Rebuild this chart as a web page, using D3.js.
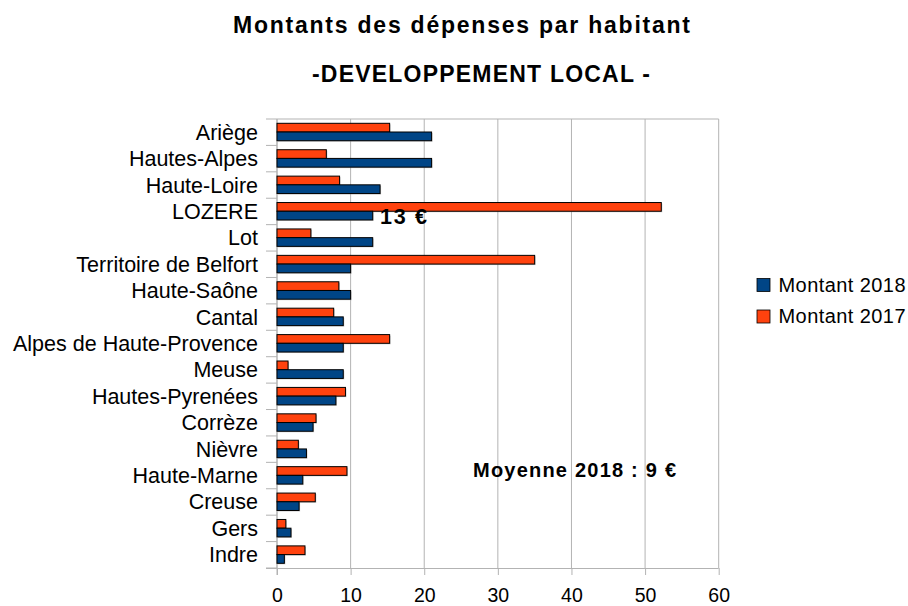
<!DOCTYPE html>
<html>
<head>
<meta charset="utf-8">
<script src="https://cdn.jsdelivr.net/npm/d3@7"></script>
<style>
  html, body { margin: 0; padding: 0; background: #fff; }
  svg { display: block; font-family: "Liberation Sans", Arial, sans-serif; }
</style>
</head>
<body>
<svg id="chart" width="908" height="606"></svg>
<script>
// Départements, top to bottom
const departements = [
  "Ariège", "Hautes-Alpes", "Haute-Loire", "LOZERE", "Lot",
  "Territoire de Belfort", "Haute-Saône", "Cantal", "Alpes de Haute-Provence",
  "Meuse", "Hautes-Pyrenées", "Corrèze", "Nièvre", "Haute-Marne",
  "Creuse", "Gers", "Indre"
];
// Spending per inhabitant (€)
const montant2018 = [21, 21, 14, 13, 13, 10, 10, 9, 9, 9, 8, 4.9, 4, 3.5, 3, 1.9, 1];
const montant2017 = [15.3, 6.7, 8.5, 52.2, 4.6, 35, 8.4, 7.7, 15.3, 1.5, 9.3, 5.3, 2.9, 9.5, 5.2, 1.2, 3.8];
const xTicks = [0, 10, 20, 30, 40, 50, 60];
const seriesNames = ["Montant 2017", "Montant 2018"];
const seriesColors = { "Montant 2017": "#ff420e", "Montant 2018": "#004586" };
const lozereLabel = "13 €";
const moyenneLabel = "Moyenne 2018 : 9 €";

const svg = d3.select("#chart");
const plot = { left: 277, right: 718.7, top: 119, bottom: 568 };

const x = d3.scaleLinear().domain([0, 60]).range([plot.left, plot.right]);
const y = d3.scaleBand().domain(departements).range([plot.top, plot.bottom]).paddingInner(0).paddingOuter(0);
const inner = d3.scaleBand().domain(seriesNames).range([4.3, y.bandwidth() - 4.7]);

// Titles
svg.append("text").attr("x", 461.5).attr("y", 33).attr("text-anchor", "middle")
  .attr("font-size", 23).attr("font-weight", "bold").attr("fill", "#000")
  .attr("textLength", 457).attr("lengthAdjust", "spacing")
  .text("Montants des dépenses par habitant");
svg.append("text").attr("x", 481).attr("y", 81.5).attr("text-anchor", "middle")
  .attr("font-size", 23).attr("font-weight", "bold").attr("fill", "#000")
  .attr("textLength", 338).attr("lengthAdjust", "spacing")
  .text("-DEVELOPPEMENT LOCAL -");

// Vertical grid lines
svg.append("g").selectAll("line").data(xTicks).join("line")
  .attr("x1", d => x(d)).attr("x2", d => x(d))
  .attr("y1", plot.top).attr("y2", plot.bottom)
  .attr("stroke", "#b3b3b3").attr("stroke-width", 1);
// Top border of the plot area
svg.append("line").attr("x1", plot.left).attr("x2", plot.right)
  .attr("y1", plot.top).attr("y2", plot.top)
  .attr("stroke", "#b3b3b3");

// Bottom axis
const xAxis = svg.append("g").attr("transform", `translate(0,${plot.bottom})`)
  .call(d3.axisBottom(x).tickValues(xTicks).tickSize(7).tickPadding(0));
xAxis.select(".domain").attr("stroke", "#b3b3b3").attr("d", `M${plot.left - 11},0.5H${plot.right}`);
xAxis.selectAll(".tick line").attr("stroke", "#b3b3b3");
xAxis.selectAll(".tick text").attr("font-size", 19.5).attr("fill", "#000")
  .attr("font-family", "Liberation Sans, Arial, sans-serif")
  .attr("y", 34).attr("dy", 0);

// Left axis: ticks at category boundaries
const bounds = departements.map(d => y(d)).concat([plot.bottom]);
svg.append("g").selectAll("line").data(bounds).join("line")
  .attr("x1", plot.left - 11).attr("x2", plot.left)
  .attr("y1", d => d).attr("y2", d => d)
  .attr("stroke", "#b3b3b3");
svg.append("line").attr("x1", plot.left).attr("x2", plot.left)
  .attr("y1", plot.top).attr("y2", plot.bottom + 7).attr("stroke", "#b3b3b3");
svg.append("g").selectAll("text").data(departements).join("text")
  .attr("x", 258).attr("y", d => y(d) + y.bandwidth() / 2)
  .attr("dy", "0.35em").attr("text-anchor", "end")
  .attr("font-size", 21.5).attr("fill", "#000")
  .text(d => d);

// Bars
const rows = departements.map((d, i) => ({
  dep: d,
  values: [
    { key: "Montant 2017", v: montant2017[i] },
    { key: "Montant 2018", v: montant2018[i] }
  ]
}));
const groups = svg.append("g").selectAll("g").data(rows).join("g")
  .attr("transform", d => `translate(0,${y(d.dep)})`);
// soft shadow
groups.selectAll("rect.shadow").data(d => d.values).join("rect").attr("class", "shadow")
  .attr("x", x(0) + 1).attr("y", d => inner(d.key) + 1)
  .attr("width", d => x(d.v) - x(0)).attr("height", inner.bandwidth())
  .attr("fill", "#999").attr("opacity", 0.55);
groups.selectAll("rect.bar").data(d => d.values).join("rect").attr("class", "bar")
  .attr("x", x(0)).attr("y", d => inner(d.key))
  .attr("width", d => x(d.v) - x(0)).attr("height", inner.bandwidth())
  .attr("fill", d => seriesColors[d.key]).attr("stroke", "#000").attr("stroke-width", 1);

// Annotations
svg.append("text").attr("x", 380).attr("y", 224)
  .attr("font-size", 21.5).attr("font-weight", "bold").attr("fill", "#000")
  .attr("textLength", 47).attr("lengthAdjust", "spacing")
  .text(lozereLabel);
svg.append("text").attr("x", 473).attr("y", 476.5)
  .attr("font-size", 20).attr("font-weight", "bold").attr("fill", "#000")
  .attr("textLength", 203).attr("lengthAdjust", "spacing")
  .text(moyenneLabel);

// Legend
const legendItems = ["Montant 2018", "Montant 2017"];
const legend = svg.append("g").selectAll("g").data(legendItems).join("g")
  .attr("transform", (d, i) => `translate(757,${278.5 + i * 31.5})`);
legend.append("rect").attr("width", 13).attr("height", 13)
  .attr("fill", d => seriesColors[d]).attr("stroke", "#000").attr("stroke-width", 0.8);
legend.append("text").attr("x", 21.5).attr("y", 13.3)
  .attr("font-size", 20).attr("fill", "#000")
  .attr("textLength", 127).attr("lengthAdjust", "spacing")
  .text(d => d);
</script>
</body>
</html>
